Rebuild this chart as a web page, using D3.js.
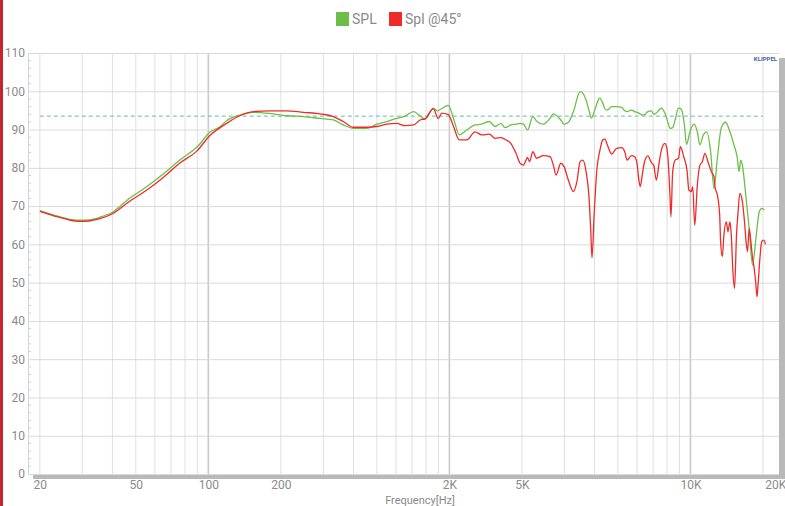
<!DOCTYPE html>
<html>
<head>
<meta charset="utf-8">
<script src="https://cdn.jsdelivr.net/npm/d3@7"></script>
<style>
  body { margin: 0; background: #fff; }
  text { font-family: Roboto, "DejaVu Sans", sans-serif; fill: #8a8a8a; }
</style>
</head>
<body>
<main></main>
<script>
// data
const freqSPL = [20, 23, 26, 29, 32, 35.5, 40, 47, 55, 65, 76, 90, 102, 112, 119, 135, 154, 180, 211, 248, 290, 330, 363, 400, 454, 500, 550, 605, 655, 710, 756, 792, 858, 890, 930, 990, 1040, 1100, 1181, 1278, 1362, 1465, 1548, 1635, 1703, 1797, 1890, 1965, 2030, 2110, 2220, 2300, 2450, 2615, 2700, 2900, 2990, 3115, 3270, 3485, 3575, 3690, 3805, 3880, 3990, 4095, 4200, 4330, 4420, 4520, 4710, 4940, 5180, 5340, 5460, 5690, 5870, 6110, 6310, 6450, 6660, 6880, 7040, 7220, 7410, 7580, 7830, 8090, 8220, 8440, 8640, 8920, 9140, 9440, 9630, 9950, 10340, 10680, 10950, 11310, 11680, 12130, 12520, 12930, 13430, 14000, 14580, 15150, 15650, 15900, 16160, 16420, 16960, 17520, 18100, 18690, 19300, 19750, 20230]
const dbSPL = [68.8, 67.6, 66.7, 66.3, 66.4, 67.1, 68.4, 72.0, 74.9, 78.4, 82.0, 85.5, 89.4, 90.8, 92.3, 93.8, 94.5, 94.2, 93.6, 93.4, 92.9, 92.5, 91.2, 90.3, 90.3, 91.4, 92.1, 92.9, 93.5, 94.7, 93.6, 92.7, 95.6, 94.9, 95.5, 96.3, 92.9, 88.6, 89.9, 91.2, 91.4, 92.1, 90.8, 91.6, 90.5, 91.2, 91.4, 91.6, 91.4, 89.9, 93.4, 92.2, 91.4, 92.9, 94.1, 92.5, 91.4, 91.9, 94.7, 99.9, 99.5, 97.7, 94.7, 93.0, 94.7, 96.9, 98.2, 96.9, 95.4, 95.1, 96.0, 96.0, 95.8, 94.9, 94.7, 95.1, 94.7, 94.3, 93.8, 93.9, 94.7, 94.9, 94.0, 94.3, 95.1, 95.6, 94.3, 91.6, 90.3, 90.5, 92.5, 95.6, 95.4, 91.2, 86.1, 89.4, 91.4, 89.4, 86.0, 88.6, 89.4, 84.2, 74.6, 82.5, 90.5, 91.9, 89.4, 86.0, 82.5, 79.0, 82.0, 80.7, 72.9, 64.2, 54.6, 61.6, 68.5, 69.4, 69.0]

const freq45 = [20, 23, 26, 29, 32, 35.5, 40, 47, 55, 65, 76, 90, 102, 112, 119, 135, 154, 180, 211, 248, 290, 330, 363, 400, 454, 500, 550, 605, 655, 710, 756, 792, 858, 900, 930, 990, 1040, 1100, 1181, 1278, 1362, 1465, 1548, 1635, 1703, 1797, 1890, 1965, 2030, 2110, 2150, 2220, 2300, 2450, 2615, 2700, 2770, 2900, 2990, 3115, 3270, 3380, 3485, 3575, 3690, 3805, 3860, 3905, 3990, 4095, 4200, 4330, 4420, 4520, 4710, 4940, 5180, 5340, 5460, 5690, 5870, 6000, 6110, 6190, 6310, 6450, 6660, 6880, 7040, 7220, 7410, 7580, 7830, 7960, 8090, 8220, 8300, 8440, 8640, 8920, 9080, 9380, 9690, 9850, 10080, 10220, 10420, 10680, 10950, 11200, 11490, 11820, 12210, 12520, 12640, 12930, 13220, 13340, 13560, 13770, 14090, 14310, 14580, 14770, 15000, 15240, 15530, 15730, 16030, 16420, 16800, 17010, 17250, 17520, 17810, 18100, 18390, 18690, 18880, 19110, 19420, 19750, 20140, 20470]
const db45 = [68.6, 67.4, 66.5, 66.0, 66.1, 66.7, 68.0, 71.2, 74.0, 77.5, 81.2, 84.5, 88.6, 90.5, 91.6, 93.6, 94.7, 94.9, 94.9, 94.5, 94.1, 93.4, 92.1, 90.6, 90.6, 90.8, 91.4, 91.6, 91.0, 91.2, 92.5, 92.8, 95.4, 92.9, 94.3, 93.9, 90.8, 87.3, 87.3, 89.4, 88.6, 88.8, 87.7, 87.9, 87.4, 86.4, 83.8, 81.2, 80.7, 82.7, 81.6, 84.2, 82.5, 83.2, 82.9, 80.7, 78.1, 81.2, 80.3, 76.8, 73.8, 76.4, 81.6, 82.0, 79.0, 71.2, 63.3, 56.5, 68.5, 79.9, 84.2, 87.3, 87.5, 86.0, 83.6, 85.1, 85.3, 84.2, 82.0, 83.2, 82.9, 81.2, 76.8, 75.1, 78.1, 81.6, 83.1, 81.4, 80.7, 76.8, 81.2, 84.7, 86.4, 85.5, 81.6, 72.9, 67.2, 79.0, 82.0, 82.5, 85.5, 82.9, 79.0, 74.2, 73.8, 75.1, 65.0, 75.5, 80.7, 81.6, 83.8, 81.6, 79.0, 77.7, 75.1, 72.9, 67.7, 60.7, 56.8, 62.5, 65.9, 63.3, 65.9, 62.5, 52.9, 48.5, 62.5, 67.7, 73.3, 71.2, 65.1, 60.7, 58.1, 64.2, 60.7, 56.4, 53.7, 49.4, 46.3, 50.2, 56.4, 60.7, 61.1, 60.0]

const seriesNames = ['SPL', 'Spl @45°']
const seriesColors = ['#6dbe47', '#ee2b2b']
const referenceLevel = 93.5

// tick labels
const yTicks = [0, 10, 20, 30, 40, 50, 60, 70, 80, 90, 100, 110]
const xTickValues = [20, 50, 100, 200, 1000, 2000, 10000, 22500]
const xTickLabels = ['20', '50', '100', '200', '2K', '5K', '10K', '20K']

// sizes
const sizeOfSVG = { width: 785, height: 506 }
const plot = { left: 28, right: 779, top: 53, bottom: 474 }

const svg = d3.select('main')
    .append('svg')
    .attr('width', sizeOfSVG.width)
    .attr('height', sizeOfSVG.height)

// scales
const xScale = d3.scaleLog()
    .domain([17.86, 23300])
    .range([plot.left, plot.right])
const yScale = d3.scaleLinear()
    .domain([0, 110])
    .range([plot.bottom, plot.top])

// red strip on the left edge
svg.append('rect')
    .attr('x', 0).attr('y', 0)
    .attr('width', 3).attr('height', sizeOfSVG.height)
    .attr('fill', '#c4272f')

// shadow + plot box
svg.append('rect')
    .attr('x', plot.left + 5).attr('y', plot.top + 5)
    .attr('width', plot.right - plot.left + 4)
    .attr('height', plot.bottom - plot.top)
    .attr('fill', '#b9b9b9')
svg.append('rect')
    .attr('x', plot.left).attr('y', plot.top)
    .attr('width', plot.right - plot.left)
    .attr('height', plot.bottom - plot.top + 1)
    .attr('fill', '#fff')

// vertical grid
const gridFreqs = []
;[10, 100, 1000, 10000].forEach(dec => {
    for (let k = 1; k <= 9; k++) {
        const f = dec * k
        if (f >= 20 && f <= 20000) gridFreqs.push(f)
    }
})
svg.append('g')
    .selectAll('line')
    .data(gridFreqs)
    .enter()
    .append('line')
    .attr('x1', d => xScale(d)).attr('x2', d => xScale(d))
    .attr('y1', plot.top).attr('y2', plot.bottom)
    .attr('stroke', d => [100, 1000, 10000].includes(d) ? '#cacaca' : '#e0e0e0')
    .attr('stroke-width', d => [100, 1000, 10000].includes(d) ? 1.6 : 1)

// horizontal grid + y labels
const yAxis = d3.axisLeft(yScale)
    .tickValues(yTicks)
    .tickSize(-(plot.right - plot.left))
    .tickPadding(3)
svg.append('g')
    .attr('transform', `translate(${plot.left},0)`)
    .call(yAxis)
    .call(g => g.select('.domain').attr('stroke', '#d6d6d6'))
    .call(g => g.selectAll('.tick line').attr('stroke', '#dadada'))
    .call(g => g.selectAll('.tick text').attr('font-size', 12).attr('fill', '#8a8a8a'))

// minor ticks every 2 dB
svg.append('g')
    .selectAll('line')
    .data(d3.range(2, 110, 2).filter(v => v % 10 !== 0))
    .enter()
    .append('line')
    .attr('x1', plot.left).attr('x2', plot.left + 3)
    .attr('y1', d => yScale(d)).attr('y2', d => yScale(d))
    .attr('stroke', '#d0d0d0')

// x axis labels
const xAxis = d3.axisBottom(xScale)
    .tickValues(xTickValues)
    .tickFormat((d, i) => xTickLabels[i])
    .tickSize(0)
    .tickPadding(6)
svg.append('g')
    .attr('transform', `translate(0,${plot.bottom})`)
    .call(xAxis)
    .call(g => g.select('.domain').remove())
    .call(g => g.selectAll('.tick text').attr('font-size', 12).attr('fill', '#8a8a8a'))

svg.append('text')
    .attr('x', 420)
    .attr('y', 504)
    .attr('text-anchor', 'middle')
    .attr('font-size', 11)
    .text('Frequency[Hz]')

// reference level
svg.append('line')
    .attr('x1', xScale(20)).attr('x2', xScale(20000))
    .attr('y1', yScale(referenceLevel)).attr('y2', yScale(referenceLevel))
    .attr('stroke', '#66bbb3')
    .attr('stroke-dasharray', '4,3')

// curves
const line = d3.line()
    .x(d => xScale(d[0]))
    .y(d => yScale(d[1]))
    .curve(d3.curveMonotoneX)

const series = [
    d3.zip(freqSPL, dbSPL),
    d3.zip(freq45, db45)
]
svg.append('g')
    .selectAll('path')
    .data(series)
    .enter()
    .append('path')
    .attr('d', line)
    .attr('fill', 'none')
    .attr('stroke', (d, i) => seriesColors[i])
    .attr('stroke-width', 1.3)

// KLIPPEL mark
svg.append('text')
    .attr('x', 777)
    .attr('y', 61)
    .attr('text-anchor', 'end')
    .attr('font-size', 6)
    .attr('font-weight', 'bold')
    .style('fill', '#4e5f9c')
    .text('KLIPPEL')

// legend
const legendX = [336, 389]
const legend = svg.append('g')
    .selectAll('g')
    .data(seriesNames)
    .enter()
    .append('g')
    .attr('transform', (d, i) => `translate(${legendX[i]},12)`)
legend.append('rect')
    .attr('width', 13).attr('height', 14)
    .attr('fill', (d, i) => seriesColors[i])
legend.append('text')
    .attr('x', 16)
    .attr('y', 12)
    .attr('font-size', 14)
    .text(d => d)
</script>
</body>
</html>
